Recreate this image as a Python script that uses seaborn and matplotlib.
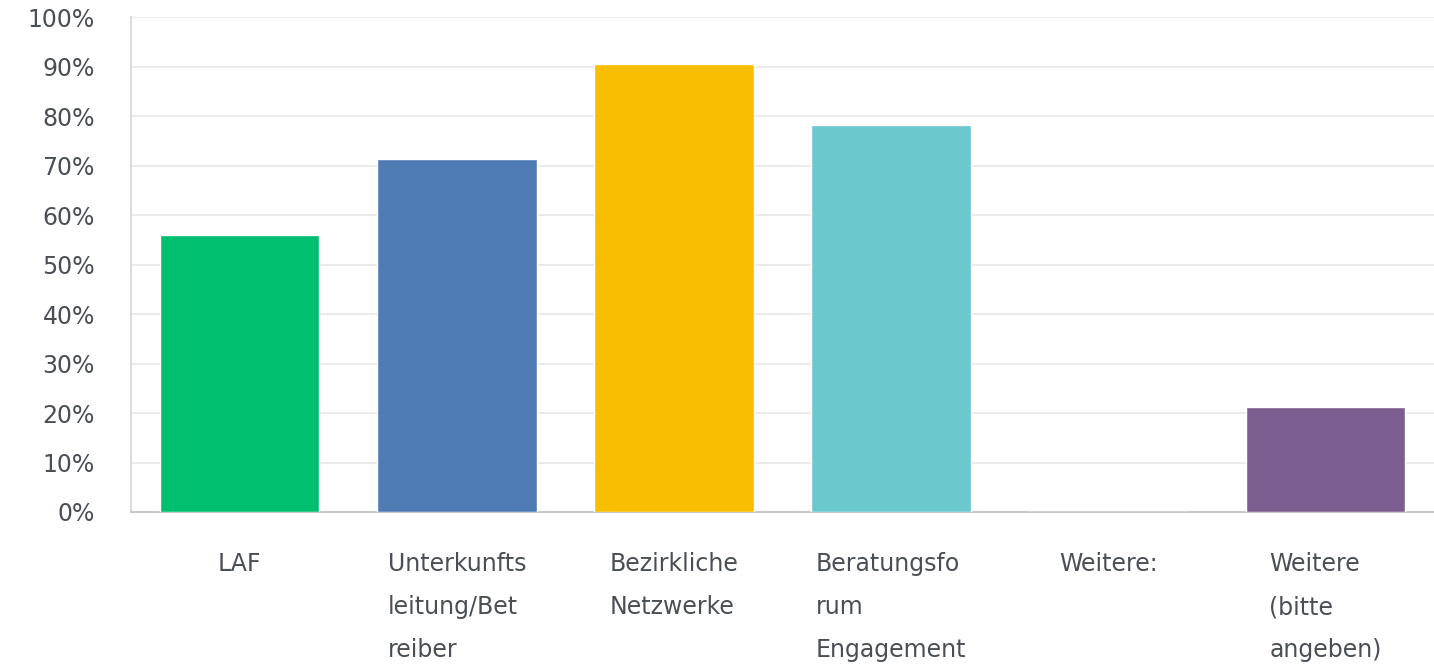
import matplotlib
matplotlib.use("Agg")
import matplotlib.pyplot as plt
import seaborn as sns
import pandas as pd
from matplotlib.ticker import PercentFormatter

# Values
categories = ["LAF", "Unterkunfts\nleitung/Bet\nreiber", "Bezirkliche\nNetzwerke",
              "Beratungsfo\nrum\nEngagement", "Weitere:", "Weitere\n(bitte\nangeben)"]
percent = [56.0, 71.4, 90.6, 78.2, 0.0, 21.3]
colors = ["#00BF6F", "#507CB6", "#F9BE00", "#6BC8CD", "#FF8B4F", "#7D5E90"]

df = pd.DataFrame({"cat": categories, "pct": percent})

sns.set_style("white")
plt.rcParams["font.family"] = ["DejaVu Sans"]

fig = plt.figure(figsize=(14.34, 6.65), dpi=100)
ax = fig.add_axes([131 / 1434, 0.2301, 1303 / 1434, 0.744])

sns.barplot(data=df, x="cat", y="pct", hue="cat", palette=colors,
            legend=False, width=0.735, saturation=1, ax=ax, zorder=3)

ax.set_ylim(0, 100)
ax.set_yticks(range(0, 101, 10))
ax.yaxis.set_major_formatter(PercentFormatter(decimals=0))
ax.grid(axis="y", color="#ebebeb", linewidth=1.5, zorder=0)
ax.set_axisbelow(True)

for s in ["top", "right"]:
    ax.spines[s].set_visible(False)
ax.spines["left"].set_color("#dcdcdc")
ax.spines["bottom"].set_color("#c8c8c8")
ax.spines["left"].set_linewidth(1.5)
ax.spines["bottom"].set_linewidth(1.5)

ax.set_xlabel("")
ax.set_ylabel("")
ax.tick_params(axis="y", length=0, pad=26, labelsize=17, labelcolor="#4a4f55")
ax.tick_params(axis="x", length=0, pad=29, labelsize=17, labelcolor="#4a4f55")
for lab in ax.get_xticklabels():
    lab.set_multialignment("left")
    lab.set_verticalalignment("top")
    lab.set_linespacing(2.0)

fig.savefig("out.png", dpi=100)
